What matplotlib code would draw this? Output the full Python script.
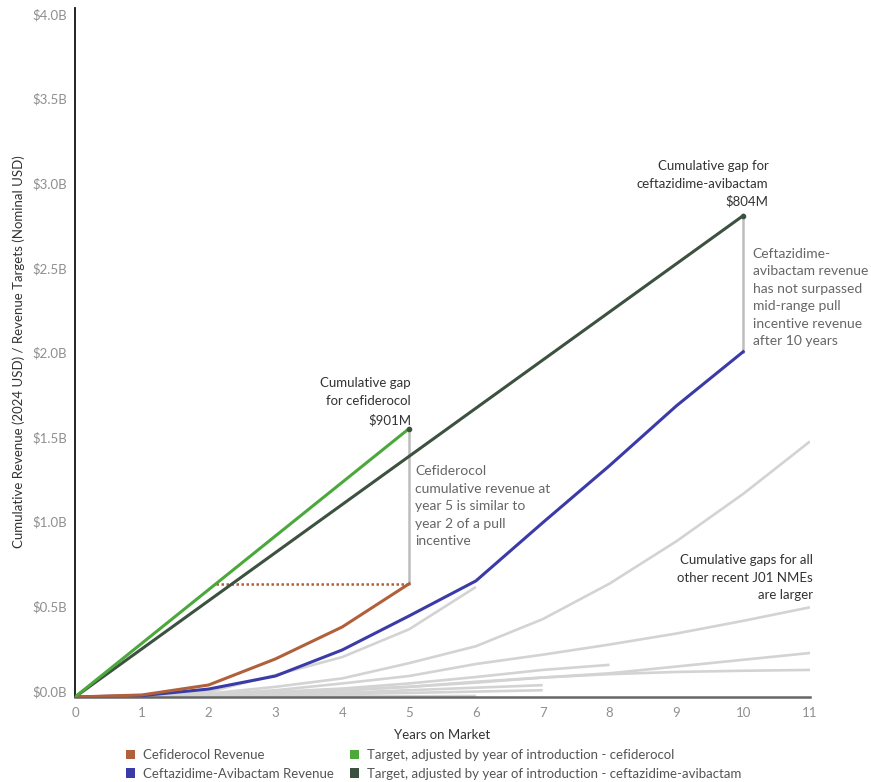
import matplotlib
matplotlib.use("Agg")
import matplotlib.pyplot as plt
import matplotlib.transforms as mtransforms
from matplotlib.patches import Patch

plt.rcParams['font.family'] = ['Lato', 'DejaVu Sans']

# ---------------- data (billions USD) ----------------
years = list(range(0, 12))
cefiderocol_rev = [0, 0.012, 0.071, 0.225, 0.414, 0.669]
ceftaz_rev = [0, 0.008, 0.047, 0.124, 0.278, 0.479, 0.686, 1.03, 1.367, 1.72, 2.04]
target_cefiderocol = [0, 1.586]          # years 0 and 5
target_cefiderocol_years = [0, 5]
target_ceftaz = [0, 2.844]               # years 0 and 10
target_ceftaz_years = [0, 10]

other_nmes = [
    [0, 0.005, 0.03, 0.13, 0.236, 0.40, 0.65],
    [0, 0.003, 0.02, 0.06, 0.11, 0.20, 0.30, 0.46, 0.67, 0.92, 1.20, 1.51],
    [0, 0.003, 0.015, 0.04, 0.08, 0.124, 0.195, 0.25, 0.31, 0.375, 0.45, 0.53],
    [0, 0.002, 0.01, 0.03, 0.05, 0.08, 0.118, 0.16, 0.19],
    [0, 0.002, 0.01, 0.025, 0.04, 0.06, 0.09, 0.115, 0.14, 0.18, 0.22, 0.26],
    [0, 0.002, 0.01, 0.02, 0.04, 0.06, 0.085, 0.115, 0.135, 0.148, 0.155, 0.16],
    [0, 0.001, 0.005, 0.015, 0.025, 0.04, 0.055, 0.07],
    [0, 0.001, 0.004, 0.01, 0.017, 0.024, 0.032, 0.04],
    [0, 0.0, 0.001, 0.002, 0.003, 0.004, 0.006],
]

yticks = [0, 0.5, 1.0, 1.5, 2.0, 2.5, 3.0, 3.5, 4.0]
ytick_labels = ["$0.0B", "$0.5B", "$1.0B", "$1.5B", "$2.0B", "$2.5B", "$3.0B", "$3.5B", "$4.0B"]

legend_labels = ["Cefiderocol Revenue", "Ceftazidime-Avibactam Revenue",
                 "Target, adjusted by year of introduction - cefiderocol",
                 "Target, adjusted by year of introduction - ceftazidime-avibactam"]

# ---------------- styles ----------------
C_BROWN = "#B0603A"
C_BLUE = "#3B3BA8"
C_GREEN = "#4BA83B"
C_DKGREEN = "#3C5140"
C_GRAY = "#D3D3D3"
C_GAP = "#BDBDBD"
C_TEXT = "#333333"
C_NOTE = "#666666"

W, H = 871, 782
fig = plt.figure(figsize=(W / 100, H / 100), dpi=100)
ax = fig.add_axes([75 / W, 1 - 697 / H, (810 - 75) / W, (697 - 8) / H])

for s in other_nmes:
    ax.plot(years[:len(s)], s, color=C_GRAY, lw=1.9, solid_capstyle='butt', zorder=1)

# gap lines
ax.plot([5, 5], [cefiderocol_rev[-1], target_cefiderocol[-1]], color=C_GAP, lw=1.8, zorder=2)
ax.plot([10, 10], [ceftaz_rev[-1], target_ceftaz[-1]], color=C_GAP, lw=1.8, zorder=2)

# dotted line: cefiderocol year-5 revenue back to the target line
slope_c = target_cefiderocol[-1] / target_cefiderocol_years[-1]
x_int = cefiderocol_rev[-1] / slope_c
ax.plot([x_int, 5], [cefiderocol_rev[-1]] * 2, color=C_BROWN, lw=1.8, ls=(0, (1, 1)), zorder=3)

ax.plot(target_ceftaz_years, target_ceftaz, color=C_DKGREEN, lw=2.2, zorder=4)
ax.plot(target_cefiderocol_years, target_cefiderocol, color=C_GREEN, lw=2.2, zorder=5)
ax.plot(years[:len(ceftaz_rev)], ceftaz_rev, color=C_BLUE, lw=2.2, zorder=4)
ax.plot(years[:len(cefiderocol_rev)], cefiderocol_rev, color=C_BROWN, lw=2.2, zorder=4)

ax.plot([5], [target_cefiderocol[-1]], 'o', color=C_DKGREEN, ms=3, zorder=6)
ax.plot([10], [target_ceftaz[-1]], 'o', color=C_DKGREEN, ms=3, zorder=6)

ax.set_xlim(0, 11)
ax.set_ylim(0, (697 - 8) / 169.25)
ax.set_xticks(years)
ax.set_xticklabels([str(y) for y in years])
ax.set_yticks(yticks)
ax.set_yticklabels(ytick_labels)
ax.tick_params(length=0, labelsize=9.5, colors="#8f8f8f", pad=6)
ax.tick_params(axis='x', pad=7)
offset = mtransforms.ScaledTranslation(0, 6 / 100, fig.dpi_scale_trans)
for lab in ax.get_yticklabels():
    lab.set_transform(lab.get_transform() + offset)

for side in ['top', 'right']:
    ax.spines[side].set_visible(False)
ax.spines['left'].set_color("#111111")
ax.spines['left'].set_linewidth(1.3)
ax.spines['bottom'].set_color("#666666")
ax.spines['bottom'].set_linewidth(1.8)

ax.set_xlabel("Years on Market", fontsize=9.5, color=C_TEXT)
ax.xaxis.set_label_coords(0.5, -(735 - 697) / 689, transform=ax.transAxes)
ax.xaxis.label.set_va('center')
ax.set_ylabel("Cumulative Revenue (2024 USD) / Revenue Targets (Nominal USD)",
              fontsize=9.5, color=C_TEXT)
ax.yaxis.set_label_coords(-(75 - 19) / 735, (697 - 352) / 689, transform=ax.transAxes)
ax.yaxis.label.set_va('center')

# annotations
ax.text(5.03, 1.60, "Cumulative gap\nfor cefiderocol\n$901M", ha='right', va='bottom',
        fontsize=9.5, color=C_TEXT, linespacing=1.6)
ax.text(5.09, 1.37, "Cefiderocol\ncumulative revenue at\nyear 5 is similar to\nyear 2 of a pull\nincentive",
        ha='left', va='top', fontsize=10, color=C_NOTE, linespacing=1.55)
ax.text(10.38, 2.89, "Cumulative gap for\nceftazidime-avibactam\n$804M", ha='right', va='bottom',
        fontsize=9.5, color=C_TEXT, linespacing=1.55)
ax.text(10.14, 2.655, "Ceftazidime-\navibactam revenue\nhas not surpassed\nmid-range pull\nincentive revenue\nafter 10 years",
        ha='left', va='top', fontsize=10, color=C_NOTE, linespacing=1.55)
ax.text(11.04, 0.567, "Cumulative gaps for all\nother recent J01 NMEs\nare larger", ha='right', va='bottom',
        fontsize=9.5, color=C_TEXT, linespacing=1.55)

handles = [Patch(facecolor=c, edgecolor='none') for c in [C_BROWN, C_BLUE, C_GREEN, C_DKGREEN]]
fig.legend(handles, legend_labels, loc='upper left', bbox_to_anchor=(122 / W, 1 - 745 / H),
           ncol=2, frameon=False, fontsize=9.5, handlelength=0.7, handleheight=0.7,
           handletextpad=0.6, columnspacing=1.2, labelspacing=0.5, labelcolor="#555555",
           borderaxespad=0, borderpad=0.3)

fig.savefig("out.png", dpi=100)
